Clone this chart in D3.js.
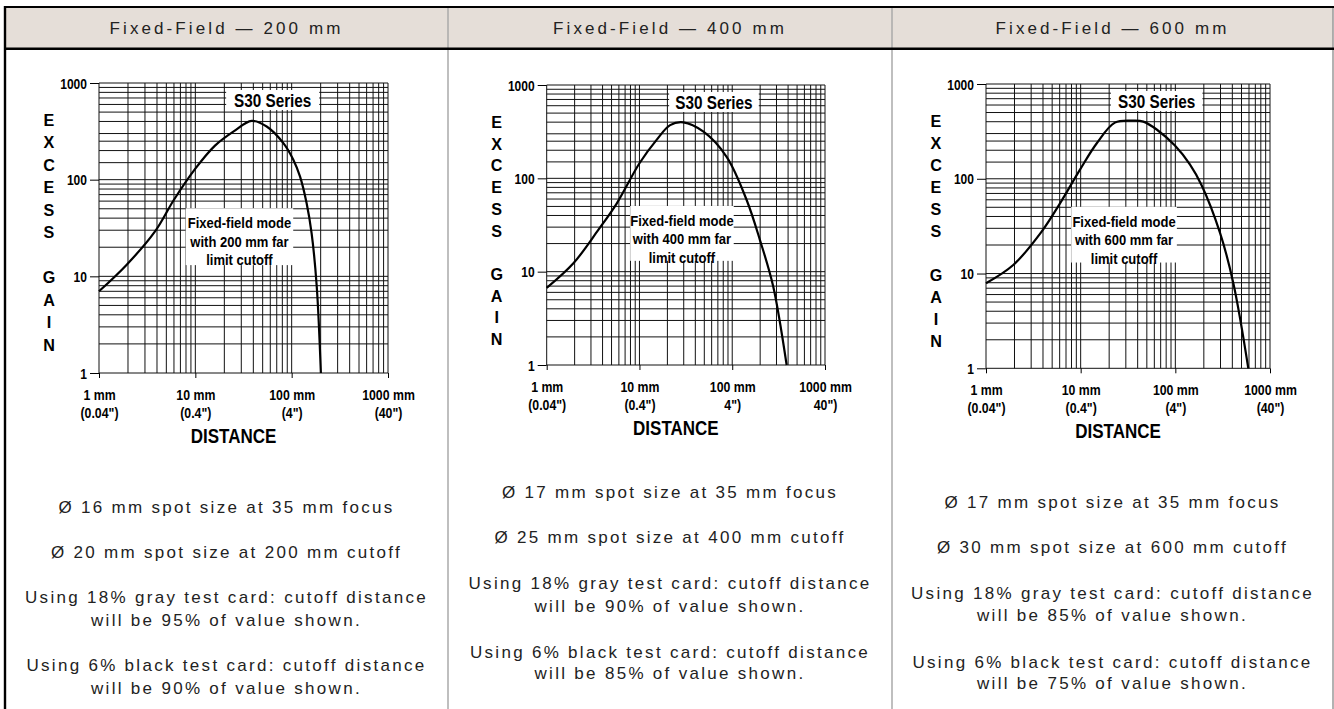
<!DOCTYPE html>
<html>
<head>
<meta charset="utf-8">
<script src="https://cdn.jsdelivr.net/npm/d3@7"></script>
<style>
  body { margin: 0; background: #fff; }
  svg { display: block; }
</style>
</head>
<body>
<svg id="chart" width="1334" height="709"></svg>
<script>
// panel titles
const titles = ["Fixed-Field — 200 mm", "Fixed-Field — 400 mm", "Fixed-Field — 600 mm"];
const cutoffs = [200, 400, 600];

// excess gain curves: [distance mm, gain]
const curve200 = [[1, 7], [1.94, 13.2], [3.8, 29], [6, 62], [10, 130], [16, 225], [25, 316], [38.5, 405], [55, 355], [82, 239], [104, 161], [122, 108], [143, 57], [161, 28], [182, 7.9], [201, 1]];
const curve400 = [[1, 6.7], [1.94, 12.3], [3.6, 28], [5.7, 54], [10, 145], [15.3, 258], [21.4, 372], [29.7, 398], [49, 316], [87, 170], [143, 58.6], [199, 21.8], [277, 6.9], [386, 1]];
const curve600 = [[1, 7.9], [1.94, 12.3], [3.87, 27.7], [6.05, 55], [9.8, 124], [14.8, 237], [23, 391], [36, 410], [45.9, 401], [63.5, 331], [99, 224], [143, 141], [190, 85], [296, 27], [410, 7.9], [590, 1]];

// axes
const xTicks = [1, 10, 100, 1000];
const xTickMm = ["1 mm", "10 mm", "100 mm", "1000 mm"];
const xTickInch200 = ["(0.04\")", "(0.4\")", "(4\")", "(40\")"];
const xTickInch400 = ["(0.04\")", "(0.4\")", "4\")", "40\")"];
const xTickInch600 = ["(0.04\")", "(0.4\")", "(4\")", "(40\")"];
const yTicks = [1, 10, 100, 1000];
const yTitle = ["E", "X", "C", "E", "S", "S", "", "G", "A", "I", "N"];
const extraGridY = [150, 250];

// notes under each chart
const notes200 = ["Ø 16 mm spot size at 35 mm focus", "Ø 20 mm spot size at 200 mm cutoff", "Using 18% gray test card: cutoff distance", "will be 95% of value shown.", "Using 6% black test card: cutoff distance", "will be 90% of value shown."];
const notes400 = ["Ø 17 mm spot size at 35 mm focus", "Ø 25 mm spot size at 400 mm cutoff", "Using 18% gray test card: cutoff distance", "will be 90% of value shown.", "Using 6% black test card: cutoff distance", "will be 85% of value shown."];
const notes600 = ["Ø 17 mm spot size at 35 mm focus", "Ø 30 mm spot size at 600 mm cutoff", "Using 18% gray test card: cutoff distance", "will be 85% of value shown.", "Using 6% black test card: cutoff distance", "will be 75% of value shown."];

const curves = [curve200, curve400, curve600];
const inchLabels = [xTickInch200, xTickInch400, xTickInch600];
const notes = [notes200, notes400, notes600];

// layout of the three panels
const panels = [
  { x0: 5, x1: 448, plot: { left: 99, top: 83, width: 289, height: 290 }, noteY: [507, 552, 597, 620, 665, 688] },
  { x0: 448, x1: 892, plot: { left: 546.7, top: 85, width: 278.3, height: 280 }, noteY: [492, 537, 583, 606, 652, 673] },
  { x0: 892, x1: 1333, plot: { left: 986, top: 84, width: 284, height: 284.3 }, noteY: [502, 547, 593, 615, 662, 683] },
];

const chartFont = "'Liberation Sans', Arial, Helvetica, sans-serif";
const textFont = "'Liberation Sans', Arial, Helvetica, sans-serif";

const svg = d3.select("#chart");

// narrow bold text, like the condensed face of the original
function narrow(sel, x, y, size, sx, str) {
  return sel.append("text")
    .attr("transform", `translate(${x},${y}) scale(${sx},1)`)
    .attr("text-anchor", "middle")
    .style("font-family", chartFont)
    .style("font-size", size + "px")
    .style("font-weight", "bold")
    .attr("fill", "#000")
    .text(str);
}

// table frame
svg.append("rect").attr("x", 5).attr("y", 7).attr("width", 1328).attr("height", 42).attr("fill", "#e5ded8");

panels.forEach((p, i) => {
  svg.append("text")
    .attr("x", (p.x0 + p.x1) / 2)
    .attr("y", 34)
    .attr("text-anchor", "middle")
    .style("font-family", textFont)
    .style("font-size", "17px")
    .style("letter-spacing", "3.1px")
    .attr("fill", "#222")
    .text(titles[i]);

  const g = svg.append("g");
  notes[i].forEach((t, j) => {
    g.append("text")
      .attr("x", (p.x0 + p.x1) / 2)
      .attr("y", p.noteY[j] + 6)
      .attr("text-anchor", "middle")
      .style("font-family", textFont)
      .style("font-size", "17px")
      .style("letter-spacing", "2.3px")
      .attr("fill", "#222")
      .text(t);
  });

  drawChart(p.plot, curves[i], inchLabels[i], cutoffs[i]);
});

[448, 892].forEach((x) => {
  svg.append("line").attr("x1", x).attr("x2", x).attr("y1", 7).attr("y2", 709)
    .attr("stroke", "#aaa").attr("stroke-width", 1.5);
});
svg.append("line").attr("x1", 1333).attr("x2", 1333).attr("y1", 7).attr("y2", 709)
  .attr("stroke", "#999").attr("stroke-width", 1.5);
svg.append("line").attr("x1", 4).attr("x2", 1334).attr("y1", 7).attr("y2", 7)
  .attr("stroke", "#000").attr("stroke-width", 2.2);
svg.append("line").attr("x1", 4).attr("x2", 1334).attr("y1", 48.8).attr("y2", 48.8)
  .attr("stroke", "#000").attr("stroke-width", 2.4);
svg.append("line").attr("x1", 5).attr("x2", 5).attr("y1", 6).attr("y2", 709)
  .attr("stroke", "#000").attr("stroke-width", 2.4);

function drawChart(pl, data, inch, cutoff) {
  const x = d3.scaleLog().domain([1, 1000]).range([0, pl.width]);
  const y = d3.scaleLog().domain([1, 1000]).range([pl.height, 0]);

  const g = svg.append("g").attr("transform", `translate(${pl.left},${pl.top})`);

  // grid
  const minor = [];
  [1, 10, 100].forEach((dec) => {
    for (let k = 1; k < 10; k++) minor.push(dec * k);
  });
  minor.push(1000);
  const gridY = minor.concat(extraGridY);

  g.append("g").selectAll("line").data(minor).enter().append("line")
    .attr("x1", (d) => x(d)).attr("x2", (d) => x(d))
    .attr("y1", 0).attr("y2", pl.height)
    .attr("stroke", "#111").attr("stroke-width", 1);
  g.append("g").selectAll("line").data(gridY).enter().append("line")
    .attr("x1", 0).attr("x2", pl.width)
    .attr("y1", (d) => y(d)).attr("y2", (d) => y(d))
    .attr("stroke", "#111").attr("stroke-width", 1);

  // axes
  const ya = g.append("g")
    .call(d3.axisLeft(y).tickValues(yTicks).tickSize(9).tickSizeOuter(0).tickFormat(""));
  ya.select(".domain").remove();
  ya.selectAll("line").attr("stroke", "#000");
  ya.selectAll(".tick").each(function (d) {
    narrow(d3.select(this), -12, 5, 14, 0.86, d3.format("d")(d)).attr("text-anchor", "end");
  });

  const xa = g.append("g").attr("transform", `translate(0,${pl.height})`)
    .call(d3.axisBottom(x).tickValues(xTicks).tickSize(5).tickSizeOuter(0).tickFormat(""));
  xa.select(".domain").remove();
  xa.selectAll("line").attr("stroke", "#000");
  xa.selectAll(".tick").each(function (d, i) {
    narrow(d3.select(this), 0, 27, 14, 0.88, xTickMm[i]);
    narrow(d3.select(this), 0, 45, 14, 0.88, inch[i]);
  });

  narrow(g, pl.width / 2 - 10, pl.height + 70, 20, 0.85, "DISTANCE");

  const step = pl.height * 0.0775;
  yTitle.forEach((c, k) => {
    narrow(g, -50, 37 + k * step + 6, 17, 0.95, c);
  });

  // S30 Series label
  const sx0 = pl.width * 0.44, sx1 = pl.width * 0.762;
  g.append("rect").attr("x", sx0).attr("y", 7).attr("width", sx1 - sx0).attr("height", 20).attr("fill", "#fff");
  narrow(g, (sx0 + sx1) / 2, 23.5, 18, 0.85, "S30 Series");

  // mode annotation
  const ax0 = pl.width * 0.30, ax1 = pl.width * 0.672;
  const ay0 = pl.height * 0.432, ay1 = pl.height * 0.628;
  g.append("rect").attr("x", ax0).attr("y", ay0).attr("width", ax1 - ax0).attr("height", ay1 - ay0).attr("fill", "#fff");
  const lines = ["Fixed-field mode", `with ${cutoff} mm far`, "limit cutoff"];
  lines.forEach((t, k) => {
    narrow(g, (ax0 + ax1) / 2, ay0 + 15 + k * 18.5 + 5, 14, 0.93, t);
  });

  // curve
  const line = d3.line()
    .x((d) => x(d[0]))
    .y((d) => y(d[1]))
    .curve(d3.curveCatmullRom.alpha(0.5));
  g.append("path")
    .datum(data)
    .attr("fill", "none")
    .attr("stroke", "#000")
    .attr("stroke-width", 2.2)
    .attr("d", line);
}
</script>
</body>
</html>
